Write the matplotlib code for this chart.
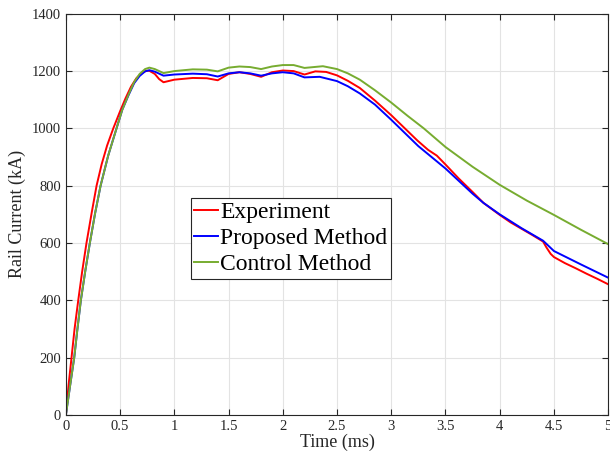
import matplotlib
matplotlib.use("Agg")
import matplotlib.pyplot as plt

plt.rcParams['font.family'] = ['Liberation Serif', 'DejaVu Serif']

# Experiment (red)
t_exp = [0, 0.025, 0.052, 0.08, 0.114, 0.15, 0.19, 0.24, 0.283, 0.33, 0.38, 0.437, 0.5,
         0.55, 0.6, 0.65, 0.7, 0.74, 0.77, 0.82, 0.86, 0.9,
         1.0, 1.17, 1.3, 1.4, 1.5, 1.6, 1.7, 1.8, 1.9, 2.0, 2.1, 2.2, 2.3, 2.4, 2.5,
         2.6, 2.71, 2.85, 3.0, 3.12, 3.24, 3.34, 3.42, 3.5, 3.62, 3.75, 3.85, 4.0,
         4.1, 4.2, 4.3, 4.4, 4.43, 4.47, 4.5, 4.6, 4.7, 4.8, 4.9, 5.0]
i_exp = [0, 105, 200, 300, 400, 500, 600, 710, 800, 875, 940, 1000, 1060,
         1105, 1145, 1175, 1193, 1201, 1201, 1190, 1172, 1161,
         1170, 1176, 1175, 1168, 1190, 1196, 1190, 1180, 1196, 1202, 1200, 1188, 1199, 1197, 1185,
         1166, 1141, 1097, 1046, 1002, 958, 925, 905, 874, 826, 778, 740, 698,
         672, 650, 628, 605, 585, 562, 551, 530, 512, 493, 475, 456]

# Proposed Method (blue)
t_prop = [0, 0.04, 0.077, 0.105, 0.138, 0.18, 0.221, 0.27, 0.32, 0.39, 0.467, 0.52,
          0.58, 0.63, 0.68, 0.73, 0.77, 0.82, 0.9,
          1.0, 1.17, 1.3, 1.4, 1.5, 1.6, 1.7, 1.8, 1.9, 2.0, 2.1, 2.2, 2.34, 2.5,
          2.6, 2.71, 2.85, 3.0, 3.25, 3.5, 3.75, 3.85, 4.0, 4.2, 4.4, 4.5, 4.75, 5.0]
i_prop = [0, 105, 200, 295, 400, 505, 600, 705, 800, 905, 1000, 1065,
          1118, 1158, 1183, 1199, 1203, 1198, 1184,
          1188, 1191, 1189, 1181, 1192, 1196, 1192, 1184, 1192, 1196, 1192, 1178, 1180, 1165,
          1147, 1122, 1083, 1030, 938, 860, 772, 740, 700, 652, 608, 572, 525, 479]

# Control Method (green)
t_ctrl = [0, 0.04, 0.077, 0.105, 0.138, 0.18, 0.221, 0.27, 0.32, 0.39, 0.467, 0.52,
          0.58, 0.63, 0.68, 0.73, 0.77, 0.82, 0.9,
          1.0, 1.17, 1.3, 1.4, 1.5, 1.6, 1.7, 1.8, 1.9, 2.0, 2.1, 2.2, 2.37, 2.5,
          2.6, 2.71, 2.85, 3.0, 3.15, 3.3, 3.5, 3.75, 4.0, 4.25, 4.5, 4.75, 5.0]
i_ctrl = [0, 105, 200, 295, 400, 505, 600, 705, 800, 905, 1000, 1065,
          1120, 1162, 1190, 1207, 1212, 1207, 1193,
          1200, 1206, 1205, 1199, 1212, 1216, 1214, 1207, 1216, 1221, 1221, 1211, 1217, 1207,
          1192, 1170, 1133, 1090, 1044, 1000, 935, 866, 803, 748, 698, 646, 596]

fig = plt.figure(figsize=(6.1, 4.59), dpi=100)
ax = fig.add_axes([0.108, 0.096, 0.889, 0.874])

ax.plot(t_exp, i_exp, color='#ff0000', lw=1.4, label='Experiment')
ax.plot(t_prop, i_prop, color='#0000ff', lw=1.4, label='Proposed Method')
ax.plot(t_ctrl, i_ctrl, color='#77ac30', lw=1.4, label='Control Method')

ax.set_xlim(0, 5)
ax.set_ylim(0, 1400)
ax.set_xticks([0, 0.5, 1, 1.5, 2, 2.5, 3, 3.5, 4, 4.5, 5])
ax.set_xticklabels(['0', '0.5', '1', '1.5', '2', '2.5', '3', '3.5', '4', '4.5', '5'])
ax.set_yticks(range(0, 1401, 200))

ax.grid(True, color='#e3e3e3', lw=0.8)
ax.set_axisbelow(True)
ax.tick_params(direction='in', top=True, right=True, labelsize=10.5,
               colors='#262626', length=4, width=0.8)
for s in ax.spines.values():
    s.set_color('#262626')
    s.set_linewidth(0.8)

ax.set_xlabel('Time (ms)', fontsize=13, color='#262626', labelpad=1)
ax.set_ylabel('Rail Current (kA)', fontsize=13, color='#262626', labelpad=4)

leg = ax.legend(loc='upper left', bbox_to_anchor=(0.313, 0.569),
                bbox_transform=fig.transFigure, fontsize=17,
                handlelength=1.0, handletextpad=0.1, labelspacing=0.2,
                borderpad=0.15, borderaxespad=0, fancybox=False, framealpha=1)
leg.get_frame().set_edgecolor('#262626')
leg.get_frame().set_linewidth(0.8)

fig.savefig('out.png', dpi=100)
